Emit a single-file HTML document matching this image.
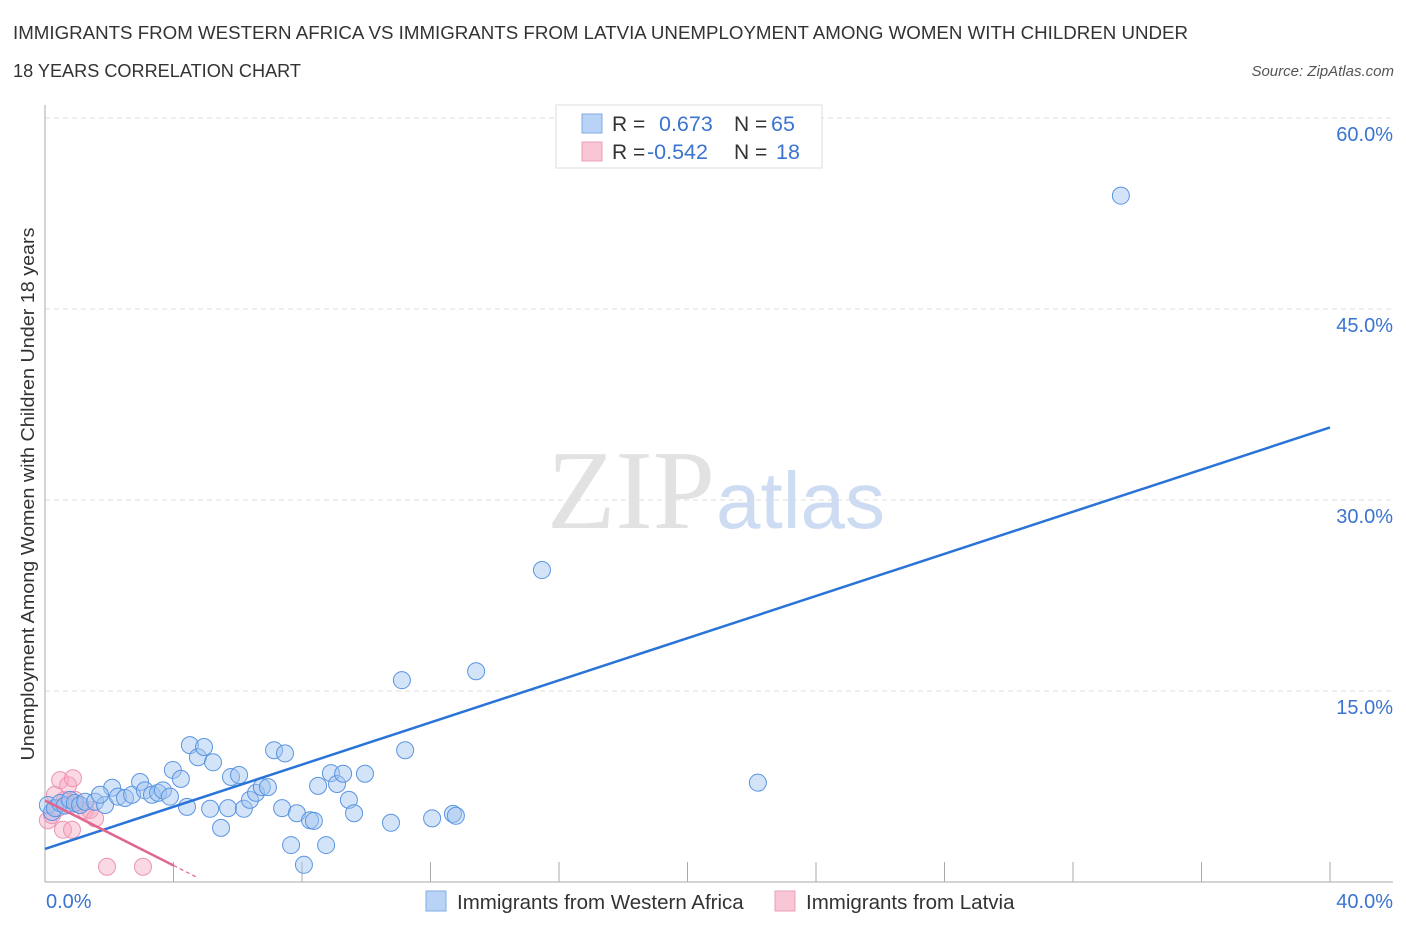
<!DOCTYPE html>
<html><head><meta charset="utf-8">
<style>
body{margin:0;background:#fff;font-family:"Liberation Sans",sans-serif;}
#wrap{position:relative;width:1406px;height:930px;overflow:hidden;}
</style></head>
<body><div id="wrap">
<svg id="svg" width="1406" height="930" xmlns="http://www.w3.org/2000/svg">
<text x="13" y="39" font-size="18" fill="#333" textLength="1175" lengthAdjust="spacingAndGlyphs">IMMIGRANTS FROM WESTERN AFRICA VS IMMIGRANTS FROM LATVIA UNEMPLOYMENT AMONG WOMEN WITH CHILDREN UNDER</text>
<text x="13" y="77" font-size="18" fill="#333" textLength="288" lengthAdjust="spacingAndGlyphs">18 YEARS CORRELATION CHART</text>
<text x="1394" y="76" font-size="15" fill="#555" font-style="italic" text-anchor="end">Source: ZipAtlas.com</text>
<text transform="translate(34,494) rotate(-90)" font-size="18" fill="#333" text-anchor="middle" textLength="533" lengthAdjust="spacingAndGlyphs">Unemployment Among Women with Children Under 18 years</text>
<g id="grid"></g>
<text x="715" y="528" font-size="112" fill="#e2e2e2" text-anchor="end" font-family="Liberation Serif,serif">ZIP</text>
<text x="716" y="528" font-size="80" fill="#cddcf2">atlas</text>
<g id="pts"></g>
<g id="lines"></g>
<g>
<rect x="556" y="105" width="266" height="63" fill="#fff" stroke="#ddd"/>
<rect x="582" y="114" width="20" height="19" fill="#b8d3f5" stroke="#7fabe6"/>
<rect x="582" y="142" width="20" height="19" fill="#f9c6d6" stroke="#eba0b8"/>
<text x="612" y="131" font-size="21" fill="#333">R =</text>
<text x="659" y="131" font-size="21.5" fill="#3a74d0">0.673</text>
<text x="734" y="131" font-size="21" fill="#333">N =</text>
<text x="771" y="131" font-size="21.5" fill="#3a74d0">65</text>
<text x="612" y="159" font-size="21" fill="#333">R =</text>
<text x="647" y="159" font-size="21.5" fill="#3a74d0">-0.542</text>
<text x="734" y="159" font-size="21" fill="#333">N =</text>
<text x="776" y="159" font-size="21.5" fill="#3a74d0">18</text>
</g>
<g>
<rect x="426" y="891" width="20" height="20" fill="#b8d3f5" stroke="#7fabe6"/>
<text x="457" y="909" font-size="20.5" fill="#333">Immigrants from Western Africa</text>
<rect x="775" y="891" width="20" height="20" fill="#f9c6d6" stroke="#eba0b8"/>
<text x="806" y="909" font-size="20.5" fill="#333">Immigrants from Latvia</text>
</g>
</svg>
</div>
<script>
const yTicks=[15,30,45,60];
const yTickLabels=["15.0%","30.0%","45.0%","60.0%"];
const xTicks=[0,4,8,12,16,20,24,28,32,36,40];
const xEndLabels=["0.0%","40.0%"];
const blueX=[0.09,0.22,0.31,0.47,0.62,0.78,0.93,1.09,1.25,1.56,1.87,2.09,2.27,2.49,2.71,2.96,3.11,3.33,3.52,3.67,3.89,3.98,4.23,4.42,4.51,4.76,4.95,5.14,5.23,5.48,5.70,5.79,6.04,6.19,6.38,6.57,6.75,6.94,7.13,7.38,7.47,7.66,7.84,8.06,8.25,8.37,8.50,8.75,8.90,9.09,9.28,9.46,9.62,9.96,10.77,11.11,11.21,12.05,12.70,12.79,13.42,15.47,22.19,33.49,1.71];
const blueY=[6.05,5.5,5.8,6.2,6.0,6.45,6.2,6.05,6.3,6.3,6.05,7.4,6.7,6.6,6.85,7.85,7.2,6.85,7.0,7.2,6.7,8.8,8.1,5.9,10.75,9.8,10.6,5.75,9.4,4.25,5.8,8.25,8.4,5.75,6.45,7.0,7.45,7.45,10.35,5.8,10.1,2.9,5.4,1.35,4.85,4.8,7.55,2.9,8.55,7.7,8.5,6.45,5.4,8.5,4.65,15.85,10.35,5.0,5.35,5.2,16.55,24.5,7.8,53.9,6.85];
const pinkX=[0.09,0.22,0.31,0.40,0.47,0.56,0.62,0.72,0.78,0.84,0.87,0.93,1.09,1.25,1.40,1.56,1.93,3.05];
const pinkY=[4.85,5.25,6.85,5.8,8.0,4.1,6.45,7.6,6.05,4.1,8.15,6.45,6.05,5.65,5.65,5.0,1.2,1.2];
const blueTrend=[2.6,35.7];   // y at x=0 and x=40
const pinkTrend=[6.4,1.3];    // y at x=0 and x=4
const NS="http://www.w3.org/2000/svg";
function sx(v){return 45+v*(1330-45)/40;}
function sy(v){return 882-v*(882-118)/60;}
function mk(t,a,p){const e=document.createElementNS(NS,t);for(const k in a)e.setAttribute(k,a[k]);p.appendChild(e);return e;}
const grid=document.getElementById('grid');
yTicks.forEach((t,i)=>{
  const l=mk('line',{x1:45,x2:1393,y1:sy(t),y2:sy(t),stroke:'#ddd','stroke-dasharray':'5,4'},grid);
  
  
  const tx=mk('text',{x:1393,y:sy(t)+23,'font-size':20,fill:'#3a74d0','text-anchor':'end'},grid);
  tx.textContent=yTickLabels[i];
  
  
});
const ax=mk('line',{x1:45,x2:45,y1:105,y2:882,stroke:'#aaa'},grid);


const bx=mk('line',{x1:45,x2:1393,y1:882,y2:882,stroke:'#aaa'},grid);


xTicks.forEach(t=>{
  const l=mk('line',{x1:sx(t),x2:sx(t),y1:862,y2:882,stroke:'#aaa'},grid);
  
  
});
[[0,xEndLabels[0],'start',46],[40,xEndLabels[1],'end',1393]].forEach(a=>{
  const tx=mk('text',{x:a[3],y:908,'font-size':20,fill:'#3a74d0','text-anchor':a[2]},grid);
  tx.textContent=a[1];
  
  
});
const pts=document.getElementById('pts');
pinkX.forEach((x,i)=>{
  const c=mk('circle',{cx:sx(x),cy:sy(pinkY[i]),r:8.5,fill:'rgba(246,170,196,0.45)',stroke:'#ec94b2','stroke-width':1},pts);
  
  
});
blueX.forEach((x,i)=>{
  const c=mk('circle',{cx:sx(x),cy:sy(blueY[i]),r:8.5,fill:'rgba(160,196,240,0.45)',stroke:'#5a95e2','stroke-width':1},pts);
  
  
});
const lines=document.getElementById('lines');
const bl=mk('line',{x1:sx(0),y1:sy(blueTrend[0]),x2:sx(40),y2:sy(blueTrend[1]),stroke:'#2a74d8','stroke-width':2.5},lines);


const pl=mk('line',{x1:sx(0),y1:sy(pinkTrend[0]),x2:sx(4),y2:sy(pinkTrend[1]),stroke:'#e0668f','stroke-width':2.5},lines);


const slope=(pinkTrend[1]-pinkTrend[0])/4;
const pd=mk('line',{x1:sx(4),y1:sy(pinkTrend[1]),x2:sx(4.7),y2:sy(pinkTrend[1]+slope*0.7),stroke:'#e0668f','stroke-width':1.2,'stroke-dasharray':'4,3'},lines);


</script>
</body></html>
